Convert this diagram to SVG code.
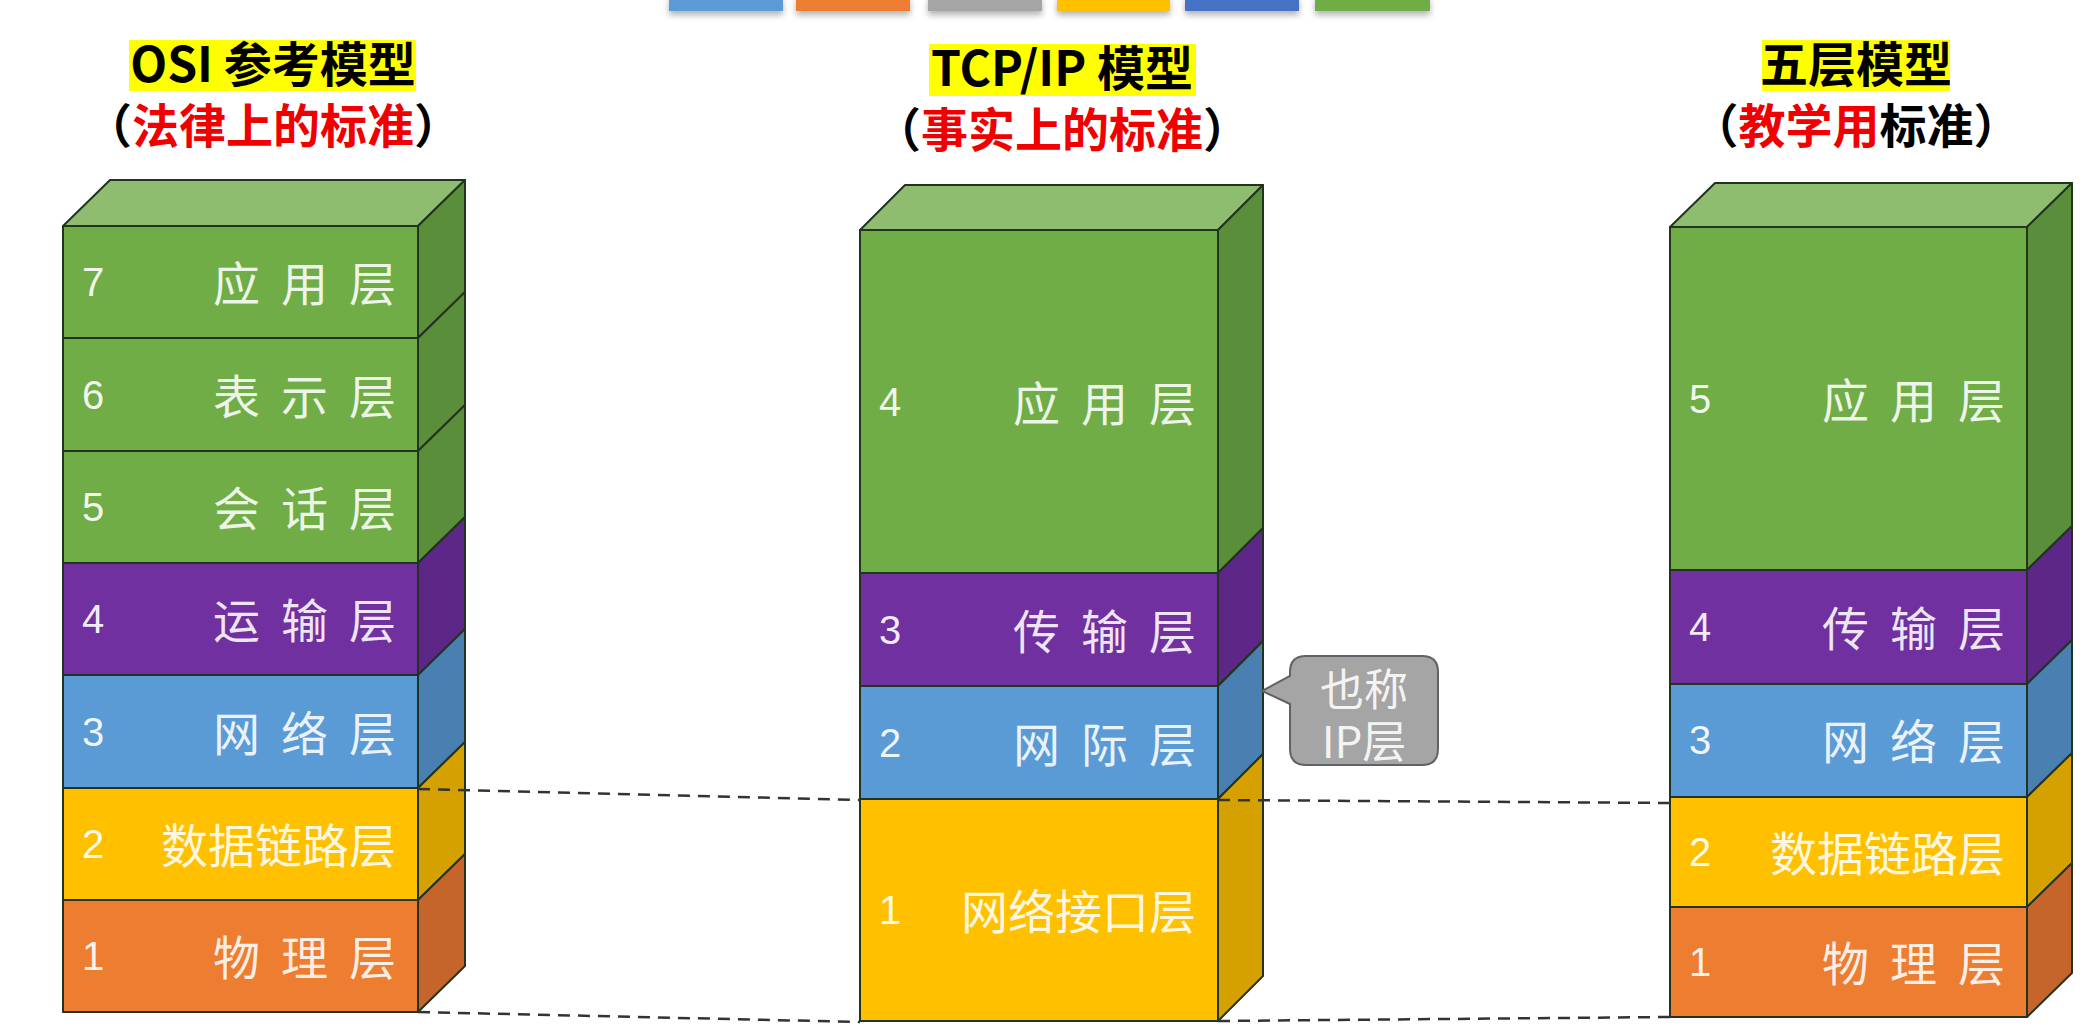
<svg xmlns="http://www.w3.org/2000/svg" width="2090" height="1034" viewBox="0 0 2090 1034">
<defs>
<filter id="sh" x="-10%" y="-50%" width="120%" height="300%"><feDropShadow dx="0" dy="4" stdDeviation="3" flood-color="#000" flood-opacity="0.3"/></filter>
</defs>
<style>
.edge{stroke:#22331f;stroke-width:2;stroke-linejoin:round}
.gF{fill:#70ad47}.gT{fill:#8fbd6f}.gS{fill:#5b8e3a}
.pF{fill:#7030a0}.pS{fill:#5c2786}
.bF{fill:#5b9bd5}.bS{fill:#4a7fb2}
.yF{fill:#ffc000}.yS{fill:#d4a100}
.oF{fill:#ed7d31}.oS{fill:#c6652b}
.num{font-family:"Liberation Sans",Arial,sans-serif;font-size:40px;fill:#fff;fill-opacity:0.92}
.lab{font-family:"Noto Sans CJK SC","Noto Sans",sans-serif;font-size:47px;fill:#fff;fill-opacity:0.88}
.cl{font-family:"Noto Sans CJK SC","Noto Sans",sans-serif;font-size:44px;fill:#fff;fill-opacity:0.9;text-anchor:middle}
.t1{font-family:"Noto Sans CJK SC","Noto Sans",sans-serif;font-size:48px;font-weight:700;fill:#000;text-anchor:middle}
.t2{font-family:"Noto Sans CJK SC","Noto Sans",sans-serif;font-size:47px;font-weight:700;fill:#000;text-anchor:middle}
.red{fill:#f00000}
.hl{fill:#ffff00}
.dash{fill:none;stroke:#333;stroke-width:2.5;stroke-dasharray:12 8}
</style>
<rect width="2090" height="1034" fill="#fff"/>

<g id="topbars" filter="url(#sh)">
<rect x="669" y="-4" width="114" height="15" fill="#5b9bd5"/>
<rect x="796" y="-4" width="114" height="15" fill="#ed7d31"/>
<rect x="928" y="-4" width="114" height="15" fill="#a5a5a5"/>
<rect x="1057" y="-4" width="113" height="15" fill="#ffc000"/>
<rect x="1185" y="-4" width="114" height="15" fill="#4472c4"/>
<rect x="1315" y="-4" width="115" height="15" fill="#70ad47"/>
</g>

<g id="title-osi">
<rect class="hl" x="129" y="40" width="287" height="51"/>
<text class="t1" x="273" y="82">OSI 参考模型</text>
<text class="t2" x="273" y="143">（<tspan class="red">法律上的标准</tspan>）</text>
</g>
<g id="title-tcpip">
<rect class="hl" x="929" y="44" width="267" height="52"/>
<text class="t1" x="1062" y="86">TCP/IP 模型</text>
<text class="t2" x="1062" y="147">（<tspan class="red">事实上的标准</tspan>）</text>
</g>
<g id="title-five">
<rect class="hl" x="1762" y="40" width="188" height="51"/>
<text class="t1" x="1856" y="82">五层模型</text>
<text class="t2" x="1856" y="143">（<tspan class="red">教学用</tspan>标准）</text>
</g>

<g id="osi">
<g id="osi-7">
<polygon class="gT edge" points="63,226 110,180 465,180 418,226"/>
<rect class="gF edge" x="63" y="226" width="355" height="112"/>
<polygon class="gS edge" points="418,226 465,180 465,292 418,338"/>
<text class="num" x="82" y="296">7</text>
<text class="lab" x="213 281 349" y="301">应用层</text>
</g>
<g id="osi-6">
<rect class="gF edge" x="63" y="338" width="355" height="113"/>
<polygon class="gS edge" points="418,338 465,292 465,405 418,451"/>
<text class="num" x="82" y="409">6</text>
<text class="lab" x="213 281 349" y="414">表示层</text>
</g>
<g id="osi-5">
<rect class="gF edge" x="63" y="451" width="355" height="112"/>
<polygon class="gS edge" points="418,451 465,405 465,517 418,563"/>
<text class="num" x="82" y="521">5</text>
<text class="lab" x="213 281 349" y="526">会话层</text>
</g>
<g id="osi-4">
<rect class="pF edge" x="63" y="563" width="355" height="112"/>
<polygon class="pS edge" points="418,563 465,517 465,629 418,675"/>
<text class="num" x="82" y="633">4</text>
<text class="lab" x="213 281 349" y="638">运输层</text>
</g>
<g id="osi-3">
<rect class="bF edge" x="63" y="675" width="355" height="113"/>
<polygon class="bS edge" points="418,675 465,629 465,742 418,788"/>
<text class="num" x="82" y="746">3</text>
<text class="lab" x="213 281 349" y="751">网络层</text>
</g>
<g id="osi-2">
<rect class="yF edge" x="63" y="788" width="355" height="112"/>
<polygon class="yS edge" points="418,788 465,742 465,854 418,900"/>
<text class="num" x="82" y="858">2</text>
<text class="lab" x="396" y="863" text-anchor="end">数据链路层</text>
</g>
<g id="osi-1">
<rect class="oF edge" x="63" y="900" width="355" height="112"/>
<polygon class="oS edge" points="418,900 465,854 465,966 418,1012"/>
<text class="num" x="82" y="970">1</text>
<text class="lab" x="213 281 349" y="975">物理层</text>
</g>
</g>

<g id="tcpip">
<g id="tcp-4">
<polygon class="gT edge" points="860,230 905,185 1263,185 1218,230"/>
<rect class="gF edge" x="860" y="230" width="358" height="343"/>
<polygon class="gS edge" points="1218,230 1263,185 1263,528 1218,573"/>
<text class="num" x="879" y="416">4</text>
<text class="lab" x="1013 1081 1149" y="421">应用层</text>
</g>
<g id="tcp-3">
<rect class="pF edge" x="860" y="573" width="358" height="113"/>
<polygon class="pS edge" points="1218,573 1263,528 1263,641 1218,686"/>
<text class="num" x="879" y="644">3</text>
<text class="lab" x="1013 1081 1149" y="649">传输层</text>
</g>
<g id="tcp-2">
<rect class="bF edge" x="860" y="686" width="358" height="113"/>
<polygon class="bS edge" points="1218,686 1263,641 1263,754 1218,799"/>
<text class="num" x="879" y="757">2</text>
<text class="lab" x="1013 1081 1149" y="762">网际层</text>
</g>
<g id="tcp-1">
<rect class="yF edge" x="860" y="799" width="358" height="222"/>
<polygon class="yS edge" points="1218,799 1263,754 1263,976 1218,1021"/>
<text class="num" x="879" y="924">1</text>
<text class="lab" x="1196" y="929" text-anchor="end">网络接口层</text>
</g>
</g>

<g id="callout">
<path d="M1306,656 H1422 Q1438,656 1438,672 V749 Q1438,765 1422,765 H1306 Q1290,765 1290,749 V704 L1262,691 L1290,676 V672 Q1290,656 1306,656 Z" fill="#a5a5a5" stroke="#5f6266" stroke-width="2"/>
<text class="cl" x="1364" y="706">也称</text>
<text class="cl" x="1364" y="758">IP层</text>
</g>

<g id="five">
<g id="five-5">
<polygon class="gT edge" points="1670,227 1715,183 2072,183 2027,227"/>
<rect class="gF edge" x="1670" y="227" width="357" height="343"/>
<polygon class="gS edge" points="2027,227 2072,183 2072,526 2027,570"/>
<text class="num" x="1689" y="413">5</text>
<text class="lab" x="1822 1890 1958" y="418">应用层</text>
</g>
<g id="five-4">
<rect class="pF edge" x="1670" y="570" width="357" height="114"/>
<polygon class="pS edge" points="2027,570 2072,526 2072,640 2027,684"/>
<text class="num" x="1689" y="641">4</text>
<text class="lab" x="1822 1890 1958" y="646">传输层</text>
</g>
<g id="five-3">
<rect class="bF edge" x="1670" y="684" width="357" height="113"/>
<polygon class="bS edge" points="2027,684 2072,640 2072,753 2027,797"/>
<text class="num" x="1689" y="754">3</text>
<text class="lab" x="1822 1890 1958" y="759">网络层</text>
</g>
<g id="five-2">
<rect class="yF edge" x="1670" y="797" width="357" height="110"/>
<polygon class="yS edge" points="2027,797 2072,753 2072,863 2027,907"/>
<text class="num" x="1689" y="866">2</text>
<text class="lab" x="2005" y="871" text-anchor="end">数据链路层</text>
</g>
<g id="five-1">
<rect class="oF edge" x="1670" y="907" width="357" height="110"/>
<polygon class="oS edge" points="2027,907 2072,863 2072,973 2027,1017"/>
<text class="num" x="1689" y="976">1</text>
<text class="lab" x="1822 1890 1958" y="981">物理层</text>
</g>
</g>

<g id="connectors">
<line class="dash" x1="418" y1="789" x2="860" y2="800"/>
<line class="dash" x1="1218" y1="800" x2="1670" y2="803"/>
<line class="dash" x1="418" y1="1012" x2="860" y2="1022"/>
<line class="dash" x1="1218" y1="1021" x2="1670" y2="1017"/>
</g>
</svg>
